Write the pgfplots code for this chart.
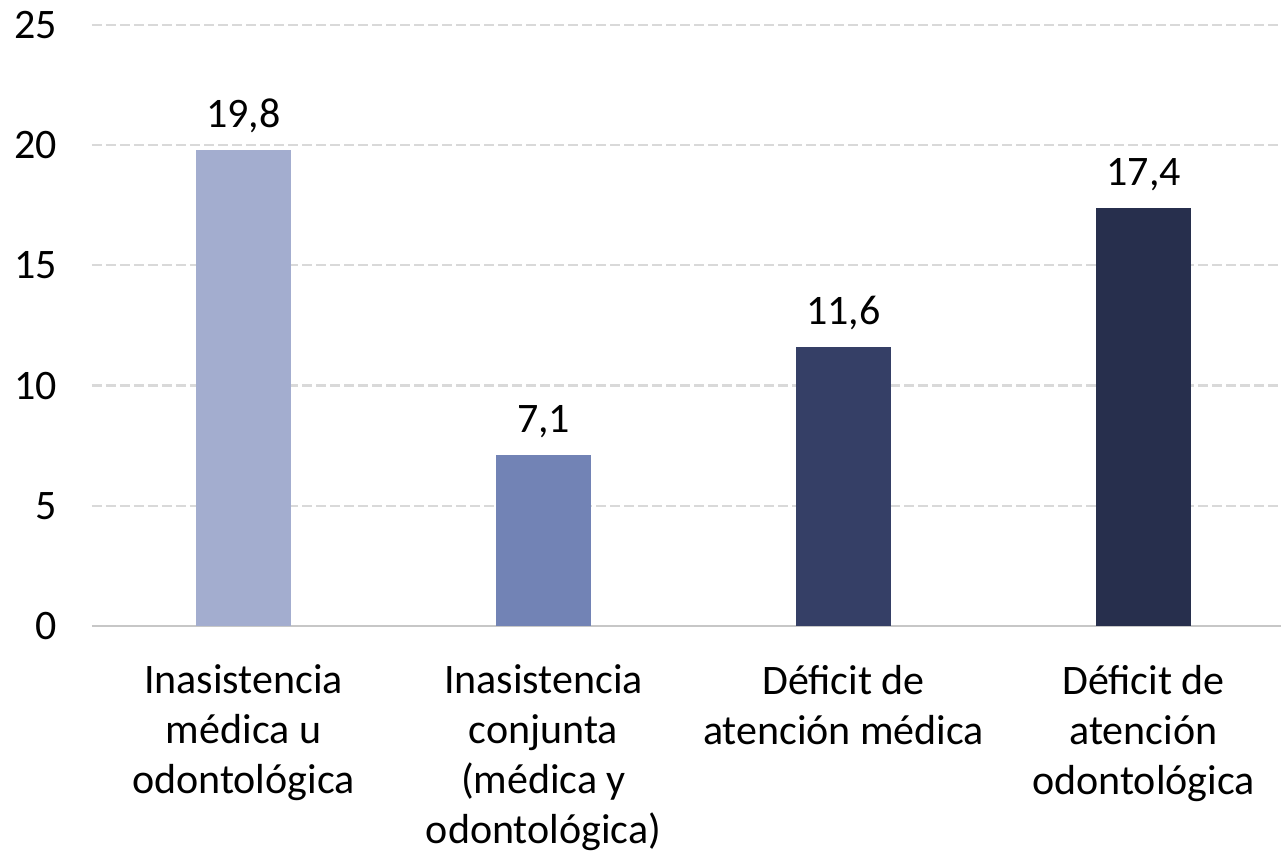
\documentclass[border=0pt]{standalone}
\usepackage{pgfplots}
\pgfplotsset{compat=1.18}
\usepackage{fontspec}
\setmainfont{Carlito}
\definecolor{barA}{HTML}{A3ADCF}
\definecolor{barB}{HTML}{7283B5}
\definecolor{barC}{HTML}{353F66}
\definecolor{barD}{HTML}{272F4D}
\definecolor{gridc}{HTML}{D9D9D9}

\begin{document}
\begin{tikzpicture}
\useasboundingbox (-46pt,-114.5pt) rectangle (594.5pt,313pt);
\begin{axis}[
  at={(0pt,0pt)}, anchor=south west,
  scale only axis, width=594.5pt, height=300.5pt,
  ybar, bar width=47.5pt, bar shift=0pt,
  xmin=-0.505, xmax=3.458, ymin=0, ymax=25,
  ytick={0,5,...,25},
  xtick={0,1,2,3},
  xticklabels={{Inasistencia\\médica u\\odontológica},
               {Inasistencia\\conjunta\\(médica y\\odontológica)},
               {Déficit de\\atención médica},
               {Déficit de\\atención\\odontológica}},
  axis line style={draw=none},
  major tick length=0pt,
  ymajorgrids, grid style={gridc, line width=1.1pt, dash pattern=on 5pt off 2pt},
  /pgf/number format/assume math mode=true,
  /pgf/number format/.cd, use comma, fixed, fixed zerofill, precision=1, /pgfplots/.cd,
  yticklabel={\pgfmathprintnumber[fixed, precision=0]{\tick}},
  tick label style={font=\fontsize{21pt}{25pt}\selectfont, text=black},
  yticklabel style={anchor=east, xshift=-14pt},
  xticklabel style={align=center, anchor=north, yshift=-16pt},
  nodes near coords,
  every node near coord/.append style={font=\fontsize{21pt}{25pt}\selectfont, text=black, yshift=5pt},
  clip=false,
]
\draw[gridc!80!gray, line width=1pt] (axis cs:-0.505,0) -- (axis cs:3.458,0);
\addplot[fill=barA, draw=none] coordinates {(0,19.8)};
\addplot[fill=barB, draw=none] coordinates {(1,7.1)};
\addplot[fill=barC, draw=none] coordinates {(2,11.6)};
\addplot[fill=barD, draw=none] coordinates {(3,17.4)};
\end{axis}
\end{tikzpicture}
\end{document}
